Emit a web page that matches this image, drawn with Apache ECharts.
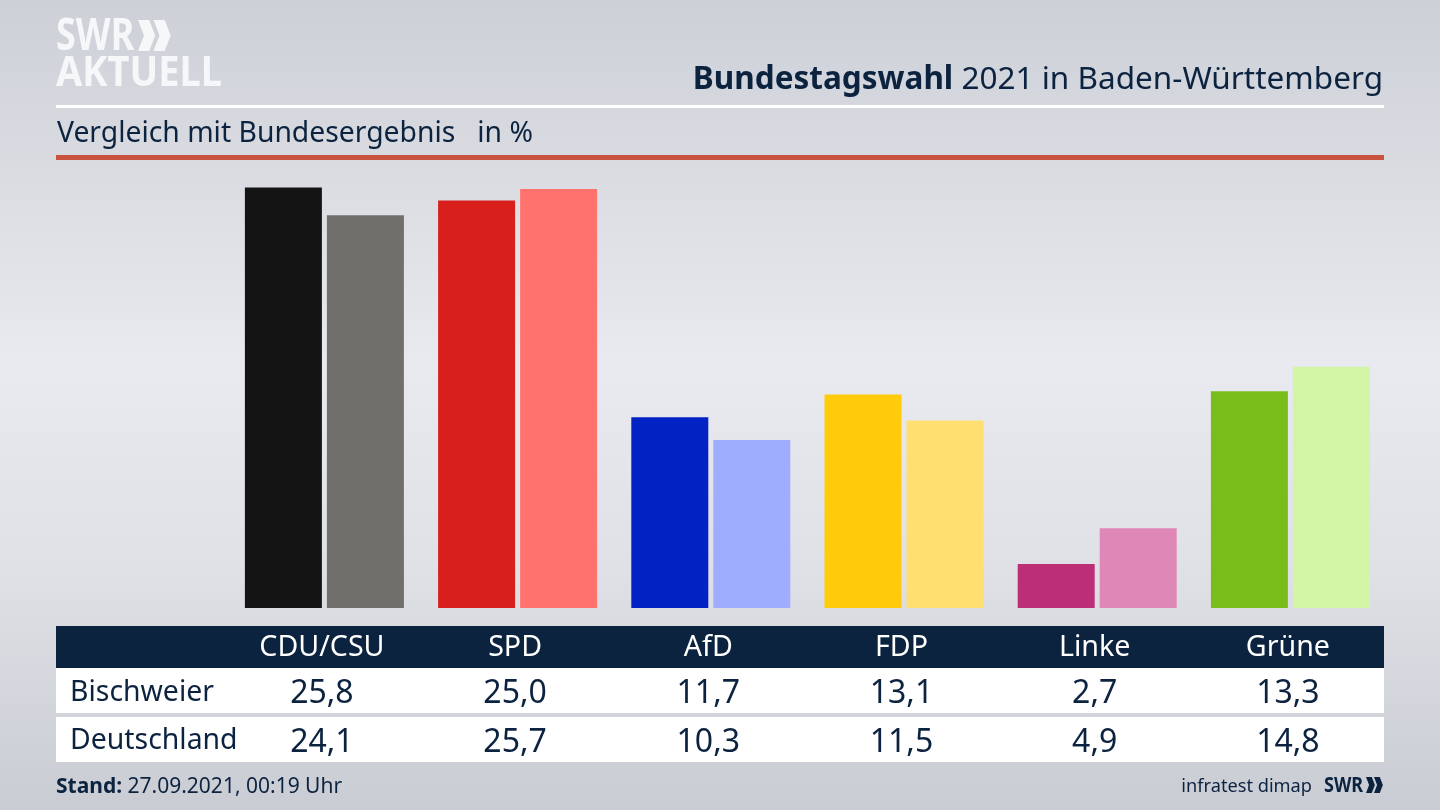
<!DOCTYPE html>
<html><head><meta charset="utf-8">
<style>html,body{margin:0;padding:0;background:#d5d8de}#c{width:1440px;height:810px}</style>
<script src="https://cdn.jsdelivr.net/npm/echarts@6/dist/echarts.min.js"></script></head>
<body><div id="c"></div>
<script>
const categories = ['CDU/CSU','SPD','AfD','FDP','Linke','Grüne'];
const bischweier = [25.8,25.0,11.7,13.1,2.7,13.3];
const deutschland = [24.1,25.7,10.3,11.5,4.9,14.8];
const rowNames = ['Bischweier','Deutschland'];
const coloursA = ['#141414','#d81f1c','#0222c4','#ffcb0a','#bc2f77','#79bd1b'];
const coloursB = ['#706f6c','#ff726e','#9fadff','#ffdf70','#df87b6','#d2f5a6'];
const navy = '#0c2340';
const font = '"Noto Sans", sans-serif';
const fmt = v => v.toFixed(1).replace('.', ',');

const chart = echarts.init(document.getElementById('c'), null, {renderer:'canvas'});

function rect(x,y,w,h,fill,z){return {type:'rect',z:z==null?-5:z,silent:true,shape:{x,y,width:w,height:h},style:{fill}};}
function poly(pts,fill){return {type:'polygon',z:-1,silent:true,shape:{points:pts},style:{fill}};}
function chevrons(x,y,h,fill){
  const w=h*0.5, t=h*0.36, gap=h*0.5, out=[];
  for(let i=0;i<2;i++){const o=x+i*gap;
    out.push(poly([[o,y],[o+t,y],[o+w+t*0.15,y+h/2],[o+t,y+h],[o,y+h],[o+w-t+t*0.15,y+h/2]],fill));}
  return out;
}
function logoText(text,x,y,size,sy,fill){
  return {type:'text',z:-1,silent:true,x,y,scaleY:sy,style:{text,fontFamily:font,fontSize:size,fontWeight:'bold',fill,verticalAlign:'middle'}};
}

chart.setOption({
  animation:false,
  backgroundColor:{type:'linear',x:0,y:0,x2:0,y2:1,colorStops:[
    {offset:0,color:'#cdd0d7'},{offset:0.2,color:'#d9dbe1'},{offset:0.45,color:'#e9eaef'},
    {offset:0.7,color:'#dfe1e6'},{offset:1,color:'#c9ccd3'}]},
  title:[
    {text:'{b|Bundestagswahl} 2021 in Baden-Württemberg',right:52,top:59,
     textStyle:{fontFamily:font,fontSize:31.5,fontWeight:'normal',color:navy,
       rich:{b:{fontFamily:font,fontSize:31.5,fontWeight:'bold',color:navy}}}},
    {text:'Vergleich mit Bundesergebnis   in %',left:52,top:115,
     textStyle:{fontFamily:font,fontSize:28.3,fontWeight:'normal',color:navy}},
    {text:'{b|Stand:} 27.09.2021, 00:19 Uhr',left:51,top:772,
     textStyle:{fontFamily:font,fontSize:21,fontWeight:'normal',color:navy,
       rich:{b:{fontFamily:font,fontSize:21,fontWeight:'bold',color:navy}}}},
    {text:'infratest dimap',right:123,top:773,
     textStyle:{fontFamily:font,fontSize:18.2,fontWeight:'normal',color:navy}}
  ],
  grid:{left:227.8,width:1159.2,top:184.2,height:423.8},
  xAxis:{type:'category',data:categories,
    axisLine:{show:false},axisTick:{show:false},
    axisLabel:{interval:0,margin:17,align:'center',verticalAlign:'top',padding:[0,5,0,0],
      formatter:(v,i)=>`{h|${v}}\n{r|${fmt(bischweier[i])}}\n{r|${fmt(deutschland[i])}}`,
      rich:{h:{fontFamily:font,fontSize:28.6,color:'#ffffff',lineHeight:45},
            r:{fontFamily:font,fontSize:32,color:navy,lineHeight:48.5}}}},
  yAxis:{type:'value',min:0,max:26,show:false,splitLine:{show:false}},
  series:[
    {name:rowNames[0],type:'bar',barWidth:77,barGap:'6.5%',
     data:bischweier.map((v,i)=>({value:v,itemStyle:{color:coloursA[i]}}))},
    {name:rowNames[1],type:'bar',barWidth:77,
     data:deutschland.map((v,i)=>({value:v,itemStyle:{color:coloursB[i]}}))}
  ],
  graphic:[
    rect(56,105,1328,3,'#ffffff'),
    rect(56,155,1328,5,'#c9533f'),
    rect(56,626,1328,42,'#0c2340'),
    rect(56,668,1328,45,'#ffffff'),
    rect(56,717,1328,45,'#ffffff'),
    {type:'text',z:-1,silent:true,x:70,y:693,style:{text:rowNames[0],fontFamily:font,fontSize:28.4,fill:navy,verticalAlign:'middle'}},
    {type:'text',z:-1,silent:true,x:70,y:741,style:{text:rowNames[1],fontFamily:font,fontSize:28.4,fill:navy,verticalAlign:'middle'}},
    logoText('SWR',56,37,36,1.25,'#f6f7f9'),
    logoText('AKTUELL',56,74,38,1.1,'#f6f7f9'),
    ...chevrons(138,20,31,'#f6f7f9'),
    logoText('SWR',1324,786,18,1.15,navy),
    ...chevrons(1366,777,16,navy)
  ]
});
</script></body></html>
